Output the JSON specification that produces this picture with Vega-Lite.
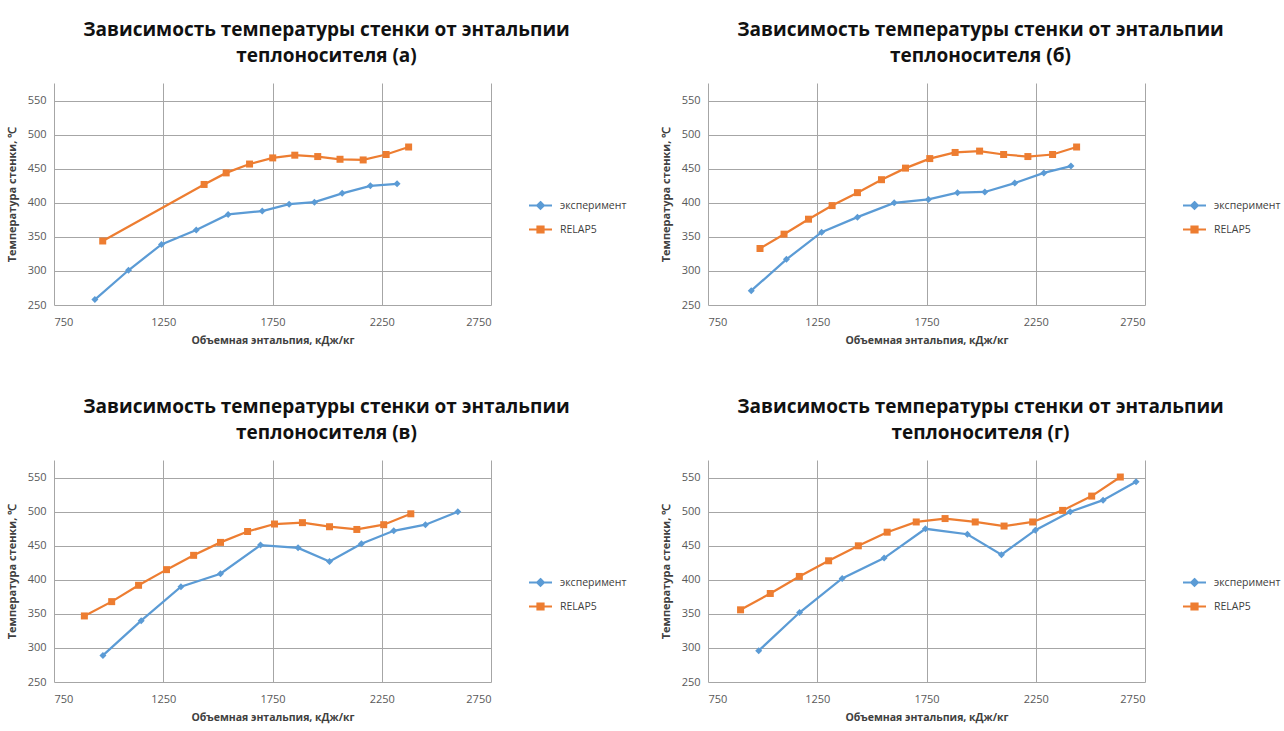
{
  "$schema": "https://vega.github.io/schema/vega-lite/v6.json",
  "background": "white",
  "padding": {"left": 6, "top": 21, "right": 5, "bottom": 5},
  "datasets": {
    "pts": [
      {"panel": "a", "series": "эксперимент", "h": 937, "t": 258},
      {"panel": "a", "series": "эксперимент", "h": 1091, "t": 301},
      {"panel": "a", "series": "эксперимент", "h": 1242, "t": 339},
      {"panel": "a", "series": "эксперимент", "h": 1401, "t": 360},
      {"panel": "a", "series": "эксперимент", "h": 1547, "t": 383},
      {"panel": "a", "series": "эксперимент", "h": 1703, "t": 388},
      {"panel": "a", "series": "эксперимент", "h": 1826, "t": 398},
      {"panel": "a", "series": "эксперимент", "h": 1942, "t": 401},
      {"panel": "a", "series": "эксперимент", "h": 2069, "t": 414},
      {"panel": "a", "series": "эксперимент", "h": 2198, "t": 425},
      {"panel": "a", "series": "эксперимент", "h": 2320, "t": 428},
      {"panel": "a", "series": "RELAP5", "h": 973, "t": 344},
      {"panel": "a", "series": "RELAP5", "h": 1437, "t": 427},
      {"panel": "a", "series": "RELAP5", "h": 1538, "t": 444},
      {"panel": "a", "series": "RELAP5", "h": 1645, "t": 457},
      {"panel": "a", "series": "RELAP5", "h": 1751, "t": 466},
      {"panel": "a", "series": "RELAP5", "h": 1852, "t": 470},
      {"panel": "a", "series": "RELAP5", "h": 1957, "t": 468},
      {"panel": "a", "series": "RELAP5", "h": 2059, "t": 464},
      {"panel": "a", "series": "RELAP5", "h": 2165, "t": 463},
      {"panel": "a", "series": "RELAP5", "h": 2270, "t": 471},
      {"panel": "a", "series": "RELAP5", "h": 2373, "t": 482},

      {"panel": "b", "series": "эксперимент", "h": 948, "t": 271},
      {"panel": "b", "series": "эксперимент", "h": 1109, "t": 317},
      {"panel": "b", "series": "эксперимент", "h": 1270, "t": 357},
      {"panel": "b", "series": "эксперимент", "h": 1434, "t": 379},
      {"panel": "b", "series": "эксперимент", "h": 1602, "t": 400},
      {"panel": "b", "series": "эксперимент", "h": 1759, "t": 405},
      {"panel": "b", "series": "эксперимент", "h": 1892, "t": 415},
      {"panel": "b", "series": "эксперимент", "h": 2017, "t": 416},
      {"panel": "b", "series": "эксперимент", "h": 2154, "t": 429},
      {"panel": "b", "series": "эксперимент", "h": 2287, "t": 444},
      {"panel": "b", "series": "эксперимент", "h": 2411, "t": 454},
      {"panel": "b", "series": "RELAP5", "h": 988, "t": 333},
      {"panel": "b", "series": "RELAP5", "h": 1098, "t": 354},
      {"panel": "b", "series": "RELAP5", "h": 1210, "t": 376},
      {"panel": "b", "series": "RELAP5", "h": 1318, "t": 396},
      {"panel": "b", "series": "RELAP5", "h": 1434, "t": 415},
      {"panel": "b", "series": "RELAP5", "h": 1544, "t": 434},
      {"panel": "b", "series": "RELAP5", "h": 1654, "t": 451},
      {"panel": "b", "series": "RELAP5", "h": 1765, "t": 465},
      {"panel": "b", "series": "RELAP5", "h": 1881, "t": 474},
      {"panel": "b", "series": "RELAP5", "h": 1993, "t": 476},
      {"panel": "b", "series": "RELAP5", "h": 2103, "t": 471},
      {"panel": "b", "series": "RELAP5", "h": 2214, "t": 468},
      {"panel": "b", "series": "RELAP5", "h": 2327, "t": 471},
      {"panel": "b", "series": "RELAP5", "h": 2437, "t": 482},

      {"panel": "c", "series": "эксперимент", "h": 974, "t": 289},
      {"panel": "c", "series": "эксперимент", "h": 1149, "t": 340},
      {"panel": "c", "series": "эксперимент", "h": 1331, "t": 390},
      {"panel": "c", "series": "эксперимент", "h": 1512, "t": 409},
      {"panel": "c", "series": "эксперимент", "h": 1695, "t": 451},
      {"panel": "c", "series": "эксперимент", "h": 1867, "t": 447},
      {"panel": "c", "series": "эксперимент", "h": 2011, "t": 427},
      {"panel": "c", "series": "эксперимент", "h": 2157, "t": 453},
      {"panel": "c", "series": "эксперимент", "h": 2305, "t": 472},
      {"panel": "c", "series": "эксперимент", "h": 2450, "t": 481},
      {"panel": "c", "series": "эксперимент", "h": 2598, "t": 500},
      {"panel": "c", "series": "RELAP5", "h": 889, "t": 347},
      {"panel": "c", "series": "RELAP5", "h": 1014, "t": 368},
      {"panel": "c", "series": "RELAP5", "h": 1137, "t": 392},
      {"panel": "c", "series": "RELAP5", "h": 1265, "t": 415},
      {"panel": "c", "series": "RELAP5", "h": 1389, "t": 436},
      {"panel": "c", "series": "RELAP5", "h": 1512, "t": 455},
      {"panel": "c", "series": "RELAP5", "h": 1636, "t": 471},
      {"panel": "c", "series": "RELAP5", "h": 1759, "t": 482},
      {"panel": "c", "series": "RELAP5", "h": 1887, "t": 484},
      {"panel": "c", "series": "RELAP5", "h": 2011, "t": 478},
      {"panel": "c", "series": "RELAP5", "h": 2136, "t": 474},
      {"panel": "c", "series": "RELAP5", "h": 2259, "t": 481},
      {"panel": "c", "series": "RELAP5", "h": 2383, "t": 497},

      {"panel": "d", "series": "эксперимент", "h": 982, "t": 296},
      {"panel": "d", "series": "эксперимент", "h": 1169, "t": 352},
      {"panel": "d", "series": "эксперимент", "h": 1364, "t": 402},
      {"panel": "d", "series": "эксперимент", "h": 1556, "t": 432},
      {"panel": "d", "series": "эксперимент", "h": 1745, "t": 475},
      {"panel": "d", "series": "эксперимент", "h": 1937, "t": 467},
      {"panel": "d", "series": "эксперимент", "h": 2093, "t": 437},
      {"panel": "d", "series": "эксперимент", "h": 2248, "t": 473},
      {"panel": "d", "series": "эксперимент", "h": 2408, "t": 500},
      {"panel": "d", "series": "эксперимент", "h": 2558, "t": 517},
      {"panel": "d", "series": "эксперимент", "h": 2709, "t": 544},
      {"panel": "d", "series": "RELAP5", "h": 899, "t": 356},
      {"panel": "d", "series": "RELAP5", "h": 1035, "t": 380},
      {"panel": "d", "series": "RELAP5", "h": 1168, "t": 405},
      {"panel": "d", "series": "RELAP5", "h": 1302, "t": 428},
      {"panel": "d", "series": "RELAP5", "h": 1438, "t": 450},
      {"panel": "d", "series": "RELAP5", "h": 1570, "t": 470},
      {"panel": "d", "series": "RELAP5", "h": 1703, "t": 485},
      {"panel": "d", "series": "RELAP5", "h": 1835, "t": 490},
      {"panel": "d", "series": "RELAP5", "h": 1973, "t": 485},
      {"panel": "d", "series": "RELAP5", "h": 2105, "t": 479},
      {"panel": "d", "series": "RELAP5", "h": 2236, "t": 485},
      {"panel": "d", "series": "RELAP5", "h": 2373, "t": 502},
      {"panel": "d", "series": "RELAP5", "h": 2506, "t": 523},
      {"panel": "d", "series": "RELAP5", "h": 2637, "t": 551}
    ]
  },
  "data": {"name": "pts"},
  "config": {
    "view": {"stroke": null},
    "font": "Open Sans",
    "axis": {
      "labelFont": "Open Sans",
      "labelFontSize": 11,
      "labelColor": "#595959",
      "titleFont": "Open Sans",
      "titleFontSize": 10.5,
      "titleFontWeight": "bold",
      "titleColor": "#404040",
      "gridColor": "#A6A6A6",
      "gridWidth": 1,
      "gridOpacity": 1,
      "domain": false,
      "ticks": false,
      "format": "d"
    },
    "axisX": {"labelPadding": 11, "titlePadding": 8},
    "axisY": {"labelPadding": 8, "titlePadding": 10, "titleFontSize": 11},
    "title": {
      "font": "Open Sans",
      "fontSize": 19,
      "fontWeight": "bold",
      "color": "#111111",
      "anchor": "middle",
      "frame": "group",
      "dx": 54,
      "offset": 17,
      "lineHeight": 26
    },
    "legend": {
      "orient": "none",
      "legendX": 474,
      "legendY": 110,
      "title": null,
      "labelFont": "Open Sans",
      "labelFontSize": 10.5,
      "labelColor": "#404040",
      "labelOffset": 7,
      "symbolSize": 529,
      "symbolStrokeWidth": 2,
      "rowPadding": 4
    }
  },
  "resolve": {"scale": {"color": "independent"}, "legend": {"color": "independent"}},
  "columns": 2,
  "spacing": {"row": 155, "column": 217},
  "bounds": "flush",
  "concat": [
    {
      "width": 437, "height": 222,
      "title": {"text": ["Зависимость температуры стенки от энтальпии", "теплоносителя (а)"]},
      "transform": [{"filter": "datum.panel == 'a'"}],
      "encoding": {
        "x": {"field": "h", "type": "quantitative", "scale": {"domain": [750, 2750], "nice": false}, "axis": {"values": [750, 1250, 1750, 2250, 2750], "title": "Объемная энтальпия, кДж/кг"}},
        "y": {"field": "t", "type": "quantitative", "scale": {"domain": [250, 576], "nice": false, "zero": false}, "axis": {"values": [250, 300, 350, 400, 450, 500, 550], "title": "Температура стенки, ℃"}},
        "color": {"field": "series", "type": "nominal", "scale": {"domain": ["эксперимент", "RELAP5"], "range": ["#5B9BD5", "#ED7D31"]},
          "legend": {"encode": {"symbols": {"update": {
            "shape": {"signal": "datum.value == 'RELAP5' ? 'M-1,0H1M-0.27,-0.27H0.27V0.27H-0.27Z' : 'M-1,0H1M0,-0.3L0.3,0L0,0.3L-0.3,0Z'"},
            "fill": {"signal": "datum.value == 'RELAP5' ? '#ED7D31' : '#5B9BD5'"},
            "stroke": {"signal": "datum.value == 'RELAP5' ? '#ED7D31' : '#5B9BD5'"},
            "strokeWidth": {"value": 2}, "opacity": {"value": 1}, "fillOpacity": {"value": 1}}}}}}
      },
      "layer": [
        {"mark": {"type": "line", "strokeWidth": 2.25}},
        {"transform": [{"filter": "datum.series == 'эксперимент'"}], "mark": {"type": "point", "shape": "diamond", "filled": true, "size": 49, "opacity": 1}},
        {"transform": [{"filter": "datum.series == 'RELAP5'"}], "mark": {"type": "point", "shape": "square", "filled": true, "size": 49, "opacity": 1}}
      ]
    },
    {
      "width": 437, "height": 222,
      "title": {"text": ["Зависимость температуры стенки от энтальпии", "теплоносителя (б)"]},
      "transform": [{"filter": "datum.panel == 'b'"}],
      "encoding": {
        "x": {"field": "h", "type": "quantitative", "scale": {"domain": [750, 2750], "nice": false}, "axis": {"values": [750, 1250, 1750, 2250, 2750], "title": "Объемная энтальпия, кДж/кг"}},
        "y": {"field": "t", "type": "quantitative", "scale": {"domain": [250, 576], "nice": false, "zero": false}, "axis": {"values": [250, 300, 350, 400, 450, 500, 550], "title": "Температура стенки, ℃"}},
        "color": {"field": "series", "type": "nominal", "scale": {"domain": ["эксперимент", "RELAP5"], "range": ["#5B9BD5", "#ED7D31"]},
          "legend": {"encode": {"symbols": {"update": {
            "shape": {"signal": "datum.value == 'RELAP5' ? 'M-1,0H1M-0.27,-0.27H0.27V0.27H-0.27Z' : 'M-1,0H1M0,-0.3L0.3,0L0,0.3L-0.3,0Z'"},
            "fill": {"signal": "datum.value == 'RELAP5' ? '#ED7D31' : '#5B9BD5'"},
            "stroke": {"signal": "datum.value == 'RELAP5' ? '#ED7D31' : '#5B9BD5'"},
            "strokeWidth": {"value": 2}, "opacity": {"value": 1}, "fillOpacity": {"value": 1}}}}}}
      },
      "layer": [
        {"mark": {"type": "line", "strokeWidth": 2.25}},
        {"transform": [{"filter": "datum.series == 'эксперимент'"}], "mark": {"type": "point", "shape": "diamond", "filled": true, "size": 49, "opacity": 1}},
        {"transform": [{"filter": "datum.series == 'RELAP5'"}], "mark": {"type": "point", "shape": "square", "filled": true, "size": 49, "opacity": 1}}
      ]
    },
    {
      "width": 437, "height": 222,
      "title": {"text": ["Зависимость температуры стенки от энтальпии", "теплоносителя (в)"]},
      "transform": [{"filter": "datum.panel == 'c'"}],
      "encoding": {
        "x": {"field": "h", "type": "quantitative", "scale": {"domain": [750, 2750], "nice": false}, "axis": {"values": [750, 1250, 1750, 2250, 2750], "title": "Объемная энтальпия, кДж/кг"}},
        "y": {"field": "t", "type": "quantitative", "scale": {"domain": [250, 576], "nice": false, "zero": false}, "axis": {"values": [250, 300, 350, 400, 450, 500, 550], "title": "Температура стенки, ℃"}},
        "color": {"field": "series", "type": "nominal", "scale": {"domain": ["эксперимент", "RELAP5"], "range": ["#5B9BD5", "#ED7D31"]},
          "legend": {"encode": {"symbols": {"update": {
            "shape": {"signal": "datum.value == 'RELAP5' ? 'M-1,0H1M-0.27,-0.27H0.27V0.27H-0.27Z' : 'M-1,0H1M0,-0.3L0.3,0L0,0.3L-0.3,0Z'"},
            "fill": {"signal": "datum.value == 'RELAP5' ? '#ED7D31' : '#5B9BD5'"},
            "stroke": {"signal": "datum.value == 'RELAP5' ? '#ED7D31' : '#5B9BD5'"},
            "strokeWidth": {"value": 2}, "opacity": {"value": 1}, "fillOpacity": {"value": 1}}}}}}
      },
      "layer": [
        {"mark": {"type": "line", "strokeWidth": 2.25}},
        {"transform": [{"filter": "datum.series == 'эксперимент'"}], "mark": {"type": "point", "shape": "diamond", "filled": true, "size": 49, "opacity": 1}},
        {"transform": [{"filter": "datum.series == 'RELAP5'"}], "mark": {"type": "point", "shape": "square", "filled": true, "size": 49, "opacity": 1}}
      ]
    },
    {
      "width": 437, "height": 222,
      "title": {"text": ["Зависимость температуры стенки от энтальпии", "теплоносителя (г)"]},
      "transform": [{"filter": "datum.panel == 'd'"}],
      "encoding": {
        "x": {"field": "h", "type": "quantitative", "scale": {"domain": [750, 2750], "nice": false}, "axis": {"values": [750, 1250, 1750, 2250, 2750], "title": "Объемная энтальпия, кДж/кг"}},
        "y": {"field": "t", "type": "quantitative", "scale": {"domain": [250, 576], "nice": false, "zero": false}, "axis": {"values": [250, 300, 350, 400, 450, 500, 550], "title": "Температура стенки, ℃"}},
        "color": {"field": "series", "type": "nominal", "scale": {"domain": ["эксперимент", "RELAP5"], "range": ["#5B9BD5", "#ED7D31"]},
          "legend": {"encode": {"symbols": {"update": {
            "shape": {"signal": "datum.value == 'RELAP5' ? 'M-1,0H1M-0.27,-0.27H0.27V0.27H-0.27Z' : 'M-1,0H1M0,-0.3L0.3,0L0,0.3L-0.3,0Z'"},
            "fill": {"signal": "datum.value == 'RELAP5' ? '#ED7D31' : '#5B9BD5'"},
            "stroke": {"signal": "datum.value == 'RELAP5' ? '#ED7D31' : '#5B9BD5'"},
            "strokeWidth": {"value": 2}, "opacity": {"value": 1}, "fillOpacity": {"value": 1}}}}}}
      },
      "layer": [
        {"mark": {"type": "line", "strokeWidth": 2.25}},
        {"transform": [{"filter": "datum.series == 'эксперимент'"}], "mark": {"type": "point", "shape": "diamond", "filled": true, "size": 49, "opacity": 1}},
        {"transform": [{"filter": "datum.series == 'RELAP5'"}], "mark": {"type": "point", "shape": "square", "filled": true, "size": 49, "opacity": 1}}
      ]
    }
  ]
}
